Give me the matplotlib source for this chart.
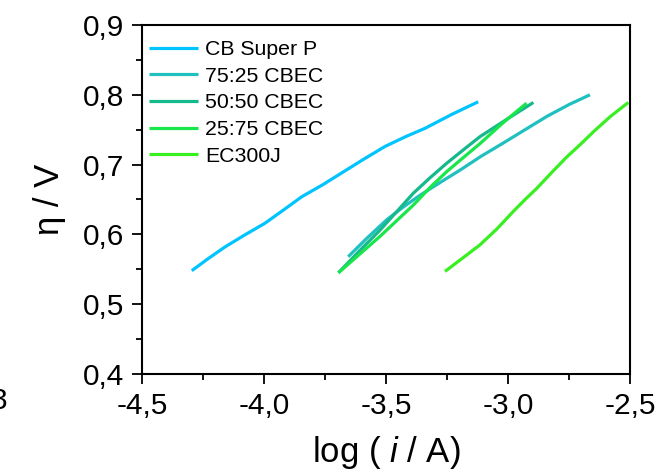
import matplotlib
matplotlib.use("Agg")
import matplotlib.pyplot as plt
from matplotlib.ticker import MultipleLocator, FuncFormatter

plt.rcParams['font.family'] = ['Liberation Sans', 'DejaVu Sans']
plt.rcParams['mathtext.fontset'] = 'custom'
plt.rcParams['mathtext.rm'] = 'Liberation Sans'
plt.rcParams['mathtext.it'] = 'Liberation Sans:italic'

labels = ["CB Super P", "75:25 CBEC", "50:50 CBEC", "25:75 CBEC", "EC300J"]
colors = ["#00c4ff", "#20c0c0", "#14b98c", "#18e64a", "#38f020"]

cb_x = [-4.296, -4.23, -4.16, -4.08, -3.996, -3.92, -3.845, -3.76, -3.682,
        -3.59, -3.504, -3.42, -3.340, -3.23, -3.122]
cb_y = [0.548, 0.565, 0.582, 0.599, 0.616, 0.635, 0.654, 0.671, 0.688,
        0.708, 0.726, 0.740, 0.752, 0.772, 0.790]

c7525_x = [-3.655, -3.58, -3.497, -3.43, -3.361, -3.28, -3.197, -3.11,
           -3.019, -2.93, -2.841, -2.75, -2.664]
c7525_y = [0.568, 0.594, 0.621, 0.639, 0.656, 0.674, 0.692, 0.712,
           0.731, 0.750, 0.769, 0.786, 0.800]

c5050_x = [-3.695, -3.61, -3.525, -3.455, -3.388, -3.32, -3.251, -3.18,
           -3.115, -3.00, -2.896]
c5050_y = [0.545, 0.576, 0.606, 0.633, 0.659, 0.681, 0.702, 0.722,
           0.740, 0.766, 0.789]

c2575_x = [-3.695, -3.61, -3.525, -3.455, -3.388, -3.32, -3.251, -3.18,
           -3.115, -3.02, -2.924]
c2575_y = [0.545, 0.571, 0.597, 0.620, 0.642, 0.667, 0.690, 0.711,
           0.730, 0.760, 0.788]

ec_x = [-3.258, -3.19, -3.115, -3.045, -2.978, -2.93, -2.882, -2.82,
        -2.759, -2.70, -2.650, -2.58, -2.507]
ec_y = [0.547, 0.565, 0.585, 0.608, 0.633, 0.650, 0.666, 0.689,
        0.711, 0.730, 0.747, 0.769, 0.789]

series = [(cb_x, cb_y), (c7525_x, c7525_y), (c5050_x, c5050_y),
          (c2575_x, c2575_y), (ec_x, ec_y)]

fig = plt.figure(figsize=(6.67, 4.76), dpi=100)
ax = fig.add_axes([142/667, 1-374/476, (630-142)/667, (374-25)/476])

for (xs, ys), lab, col in zip(series, labels, colors):
    ax.plot(xs, ys, color=col, lw=2.3, label=lab,
            solid_capstyle='butt', solid_joinstyle='round')

ax.set_xlim(-4.5, -2.5)
ax.set_ylim(0.4, 0.9)
ax.xaxis.set_major_locator(MultipleLocator(0.5))
ax.xaxis.set_minor_locator(MultipleLocator(0.25))
ax.yaxis.set_major_locator(MultipleLocator(0.1))
ax.yaxis.set_minor_locator(MultipleLocator(0.05))
ax.xaxis.set_major_formatter(FuncFormatter(lambda v, p: f"{v:.1f}".replace('.', ',')))
ax.yaxis.set_major_formatter(FuncFormatter(lambda v, p: f"{v:.1f}".replace('.', ',')))

ax.tick_params(which='major', direction='out', length=7, width=1.3, labelsize=21.5, pad=6)
ax.tick_params(which='minor', direction='out', length=4, width=1.3)
ax.tick_params(top=False, right=False, which='both')
for s in ax.spines.values():
    s.set_linewidth(1.5)

ax.set_xlabel("log ( $\\it{i}$ / A)", fontsize=25, labelpad=10)
ax.set_ylabel("η / V", fontsize=25, labelpad=12)

leg = ax.legend(loc='upper left', frameon=False, fontsize=15.3, handlelength=2.3,
                handletextpad=0.35, labelspacing=0.36, borderaxespad=0.2,
                bbox_to_anchor=(-0.012, 0.993))

fig.text(7.5/667, 1-401/476, "3", ha='right', va='center', fontsize=21.5)

fig.savefig("out.png", dpi=100)
